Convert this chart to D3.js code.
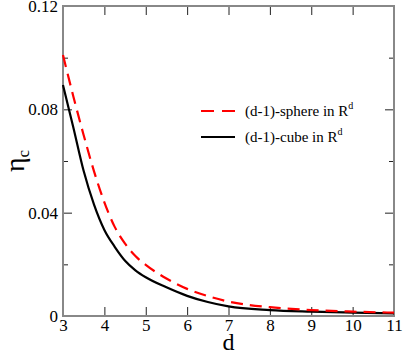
<!DOCTYPE html>
<html>
<head>
<meta charset="utf-8">
<script src="https://cdn.jsdelivr.net/npm/d3@7"></script>
<style>
  body { margin: 0; background: #fff; }
  .axis line { stroke: #222; stroke-width: 1; }
  .frame { fill: none; stroke: #888; stroke-width: 2; }
</style>
</head>
<body>
<script>
// values
var dVals  = [3, 3.25, 3.5, 3.75, 4, 4.25, 4.5, 4.75, 5, 5.5, 6, 6.5, 7, 8, 9, 10, 11];
var sphere = [0.101, 0.085, 0.070, 0.056, 0.044, 0.0345, 0.028, 0.0232, 0.0198, 0.0145, 0.0105, 0.0077, 0.0056, 0.0034, 0.0023, 0.0017, 0.0013];
var cube   = [0.0894, 0.073, 0.0561, 0.0431, 0.0333, 0.0268, 0.0214, 0.0177, 0.0150, 0.0111, 0.0078, 0.0054, 0.0037, 0.0023, 0.0017, 0.0013, 0.001];
var xTicks = [3, 4, 5, 6, 7, 8, 9, 10, 11];
var yTicks = [0, 0.04, 0.08, 0.12];
var yMinor = [0.02, 0.06, 0.10];
var yLabels = ["0", "0.04", "0.08", "0.12"];

var serif = "Liberation Serif";

var margin = {top: 6, right: 9, bottom: 38, left: 63},
    width = 403 - margin.left - margin.right,
    height = 354 - margin.top - margin.bottom;

var svg = d3.select("body").append("svg")
    .attr("width", 403)
    .attr("height", 354)
    .attr("font-family", serif)
  .append("g")
    .attr("transform", "translate(" + margin.left + "," + margin.top + ")");

var x = d3.scaleLinear().domain([3, 11]).range([0, width]);
var y = d3.scaleLinear().domain([0, 0.12]).range([height, 0]);

function noDomain(g) {
  g.select(".domain").remove();
  g.attr("font-family", serif).attr("font-size", 17);
  g.selectAll("text").attr("fill", "#000");
}

// bottom axis with labels, ticks inward
svg.append("g")
    .attr("class", "axis")
    .attr("transform", "translate(0," + height + ")")
    .call(d3.axisBottom(x).tickValues(xTicks).tickFormat(d3.format("d"))
      .tickSizeInner(-9).tickSizeOuter(0).tickPadding(3))
    .call(noDomain);

// top axis, ticks only
svg.append("g")
    .attr("class", "axis")
    .call(d3.axisTop(x).tickValues(xTicks.slice(1, -1)).tickFormat("")
      .tickSizeInner(-9).tickSizeOuter(0))
    .call(noDomain);

// left axis
svg.append("g")
    .attr("class", "axis")
    .call(d3.axisLeft(y).tickValues(yTicks).tickFormat(function(d, i) { return yLabels[i]; })
      .tickSizeInner(-9).tickSizeOuter(0).tickPadding(5))
    .call(noDomain);

svg.append("g")
    .attr("class", "axis")
    .call(d3.axisLeft(y).tickValues(yMinor).tickFormat("")
      .tickSizeInner(-5).tickSizeOuter(0))
    .call(noDomain);

// right axis
svg.append("g")
    .attr("class", "axis")
    .attr("transform", "translate(" + width + ",0)")
    .call(d3.axisRight(y).tickValues(yTicks.slice(1, -1)).tickFormat("")
      .tickSizeInner(-9).tickSizeOuter(0))
    .call(noDomain);

svg.append("g")
    .attr("class", "axis")
    .attr("transform", "translate(" + width + ",0)")
    .call(d3.axisRight(y).tickValues(yMinor).tickFormat("")
      .tickSizeInner(-5).tickSizeOuter(0))
    .call(noDomain);

svg.append("rect")
    .attr("class", "frame")
    .attr("width", width)
    .attr("height", height);

// curves
var line = d3.line()
    .x(function(d) { return x(d[0]); })
    .y(function(d) { return y(d[1]); })
    .curve(d3.curveMonotoneX);

svg.append("path")
    .datum(dVals.map(function(d, i) { return [d, cube[i]]; }))
    .attr("fill", "none")
    .attr("stroke", "#000")
    .attr("stroke-width", 2.2)
    .attr("d", line);

svg.append("path")
    .datum(dVals.map(function(d, i) { return [d, sphere[i]]; }))
    .attr("fill", "none")
    .attr("stroke", "#ff0000")
    .attr("stroke-width", 2.2)
    .attr("stroke-dasharray", "12,7")
    .attr("d", line);

// legend
var legend = svg.append("g").attr("transform", "translate(138,105)");
var items = [
  {label: "(d-1)-sphere in R", color: "#ff0000", dash: "13,8"},
  {label: "(d-1)-cube in R", color: "#000", dash: null}
];
items.forEach(function(it, i) {
  var g = legend.append("g").attr("transform", "translate(0," + (i * 26) + ")");
  g.append("line")
    .attr("x1", 0).attr("x2", 34)
    .attr("stroke", it.color)
    .attr("stroke-width", 2.2)
    .attr("stroke-dasharray", it.dash);
  var t = g.append("text")
    .attr("x", 44).attr("y", 5)
    .attr("font-family", serif)
    .attr("font-size", 15);
  t.append("tspan").text(it.label);
  t.append("tspan").attr("dy", -7).attr("font-size", 10).text("d");
});

// axis titles
svg.append("text")
    .attr("x", width / 2)
    .attr("y", height + 34)
    .attr("text-anchor", "middle")
    .attr("font-family", serif)
    .attr("font-size", 24)
    .text("d");

var yt = svg.append("text")
    .attr("transform", "translate(" + (-39) + "," + (height / 2) + ") rotate(-90)")
    .attr("text-anchor", "middle")
    .attr("font-family", serif)
    .attr("font-size", 28);
yt.append("tspan").text("η");
yt.append("tspan").attr("dy", 5).attr("font-size", 17).text("c");
</script>
</body>
</html>
